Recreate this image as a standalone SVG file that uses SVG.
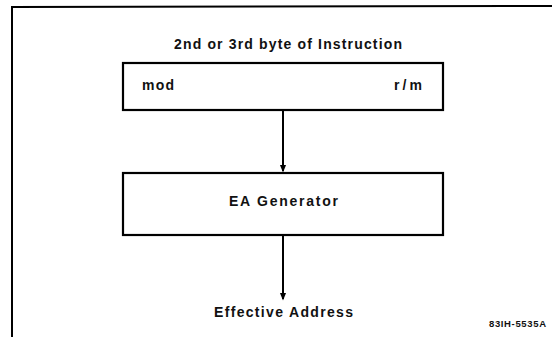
<svg xmlns="http://www.w3.org/2000/svg" width="552" height="337" viewBox="0 0 552 337">
<defs>
<marker id="ah" markerWidth="8" markerHeight="10" refX="8" refY="4" orient="auto" markerUnits="userSpaceOnUse" viewBox="0 0 10 8">
<path d="M0,0 L10,4 L0,8 Z" fill="#000"/>
</marker>
<style>
.t{font-family:"Liberation Sans",Arial,sans-serif;font-weight:bold;fill:#111;font-size:14px;}
.box{fill:#fff;stroke:#000;stroke-width:2.2;}
.conn{stroke:#000;stroke-width:2;fill:none;}
</style>
</defs>
<rect width="552" height="337" fill="#fff"/>
<g id="frame">
<path d="M12,337 L12,7 L552,6" fill="none" stroke="#000" stroke-width="2"/>
</g>
<g id="title">
<text class="t" x="174" y="49" textLength="228" lengthAdjust="spacing">2nd or 3rd byte of Instruction</text>
</g>
<g id="instruction-byte">
<rect class="box" x="123" y="63" width="320" height="47"/>
<text class="t" x="142" y="90" textLength="32" lengthAdjust="spacing">mod</text>
<text class="t" x="394" y="90" textLength="28" lengthAdjust="spacing">r/m</text>
</g>
<g id="ea-generator">
<rect class="box" x="123" y="173" width="320" height="62"/>
<text class="t" x="229" y="206" textLength="109" lengthAdjust="spacing">EA Generator</text>
</g>
<g id="effective-address">
<text class="t" x="214" y="317" textLength="139" lengthAdjust="spacing">Effective Address</text>
</g>
<g id="figure-id">
<text class="t" x="489" y="327" style="font-size:9.5px" textLength="57" lengthAdjust="spacing">83IH-5535A</text>
</g>
<g id="connectors">
<line class="conn" x1="283" y1="111" x2="283" y2="171" marker-end="url(#ah)"/>
<line class="conn" x1="283" y1="236" x2="283" y2="299" marker-end="url(#ah)"/>
</g>
</svg>
